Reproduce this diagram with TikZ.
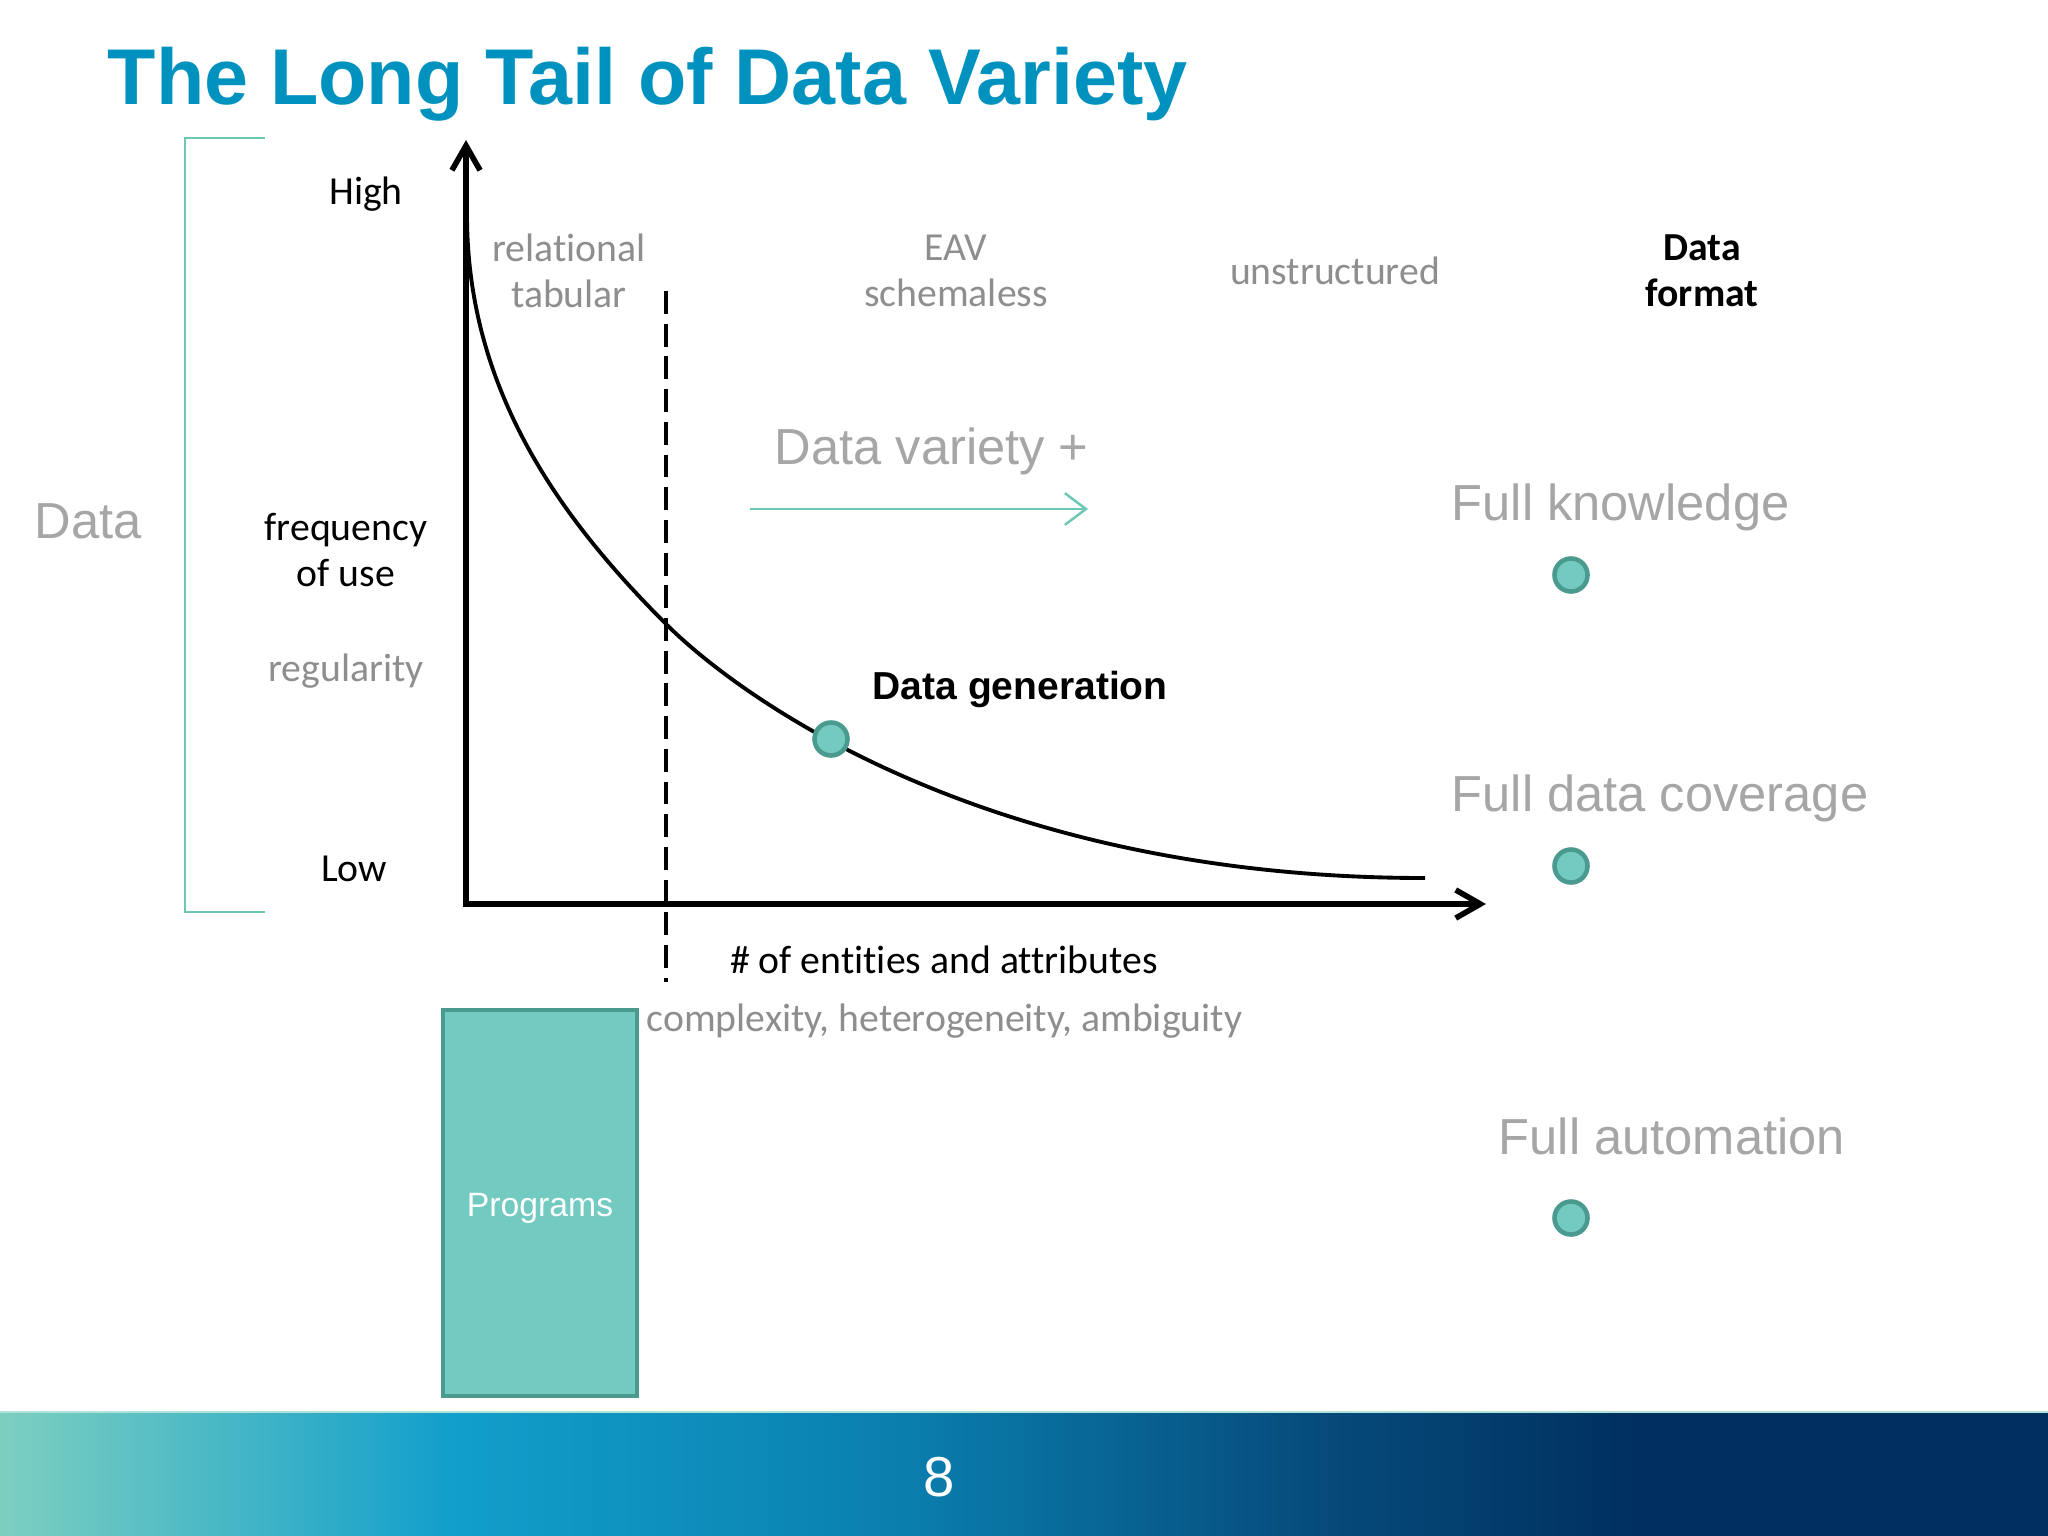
\documentclass[tikz,border=0pt]{standalone}
\usepackage{fontspec}
\setmainfont{Liberation Sans}
\newfontfamily\calibri[Ligatures=NoCommon]{Carlito}
\usetikzlibrary{arrows.meta}

\definecolor{titleblue}{HTML}{0092BE}
\definecolor{tealfill}{HTML}{72CAC1}
\definecolor{tealline}{HTML}{4B9A8F}
\definecolor{tealthin}{HTML}{6CC7B5}
\definecolor{softgray}{HTML}{A6A6A6}
\definecolor{labelgray}{HTML}{8E8E8E}
\definecolor{footA}{HTML}{7DCFC0}
\definecolor{footB}{HTML}{129FCB}
\definecolor{footC}{HTML}{0A7FAE}
\definecolor{footD}{HTML}{064C7C}
\definecolor{footE}{HTML}{00305F}
\pgfdeclarehorizontalshading{footbar}{100bp}{color(0bp)=(footA); color(25bp)=(footA); color(36bp)=(footB); color(47bp)=(footC); color(57bp)=(footD); color(65bp)=(footE); color(100bp)=(footE)}

\begin{document}
\begin{tikzpicture}[x=0.01cm, y=-0.01cm,
    cal/.style={font=\calibri\fontsize{11.3}{13.1}\selectfont, align=center, inner sep=0pt},
    big/.style={font=\fontsize{14.4}{17}\selectfont, text=softgray, inner sep=0pt},
    dot/.style={circle, draw=tealline, fill=tealfill, line width=1.3pt, minimum size=0.33cm, inner sep=0pt},
    axistip/.tip={Straight Barb[length=7pt, width=8pt]}]
    \useasboundingbox (0,0) rectangle (2048,1536);
    \fill[white] (0,0) rectangle (2048,1536);

    % Footer bar
    \shade[shading=footbar] (0,1412) rectangle (2048,1536);
    \draw[line width=0.6pt, footA!60!white] (0,1412) -- (2048,1412);
    \node[text=white, font=\fontsize{16}{18}\selectfont] (pagenum) at (939,1477) {8};

    % Title
    \node[anchor=base west, inner sep=0pt, text=titleblue, font=\bfseries\fontsize{22.5}{26}\selectfont] (title) at (107,104) {The Long Tail of Data Variety};

    % Bracket for data
    \draw[tealthin, line width=0.6pt] (265,138) -- (185,138) -- (185,912) -- (265,912);
    \node[big] (data) at (88,521) {Data};

    % Axes
    \coordinate (ytop) at (466,140);
    \coordinate (origin) at (466,904);
    \coordinate (xend) at (1486,904);
    \draw[line width=1.6pt, axistip-axistip] (ytop) -- (origin) -- (xend);

    % Axis labels
    \node[cal] (high) at (366,194) {High};
    \node[cal] (freq) at (346,550) {frequency\\of use};
    \node[cal, text=labelgray] (regul) at (346,671) {regularity};
    \node[cal] (low) at (354,869) {Low};
    \node[cal] (entities) at (944,960) {\# of entities and attributes};
    \node[cal, text=labelgray, anchor=west] (complex) at (646,1021) {complexity, heterogeneity, ambiguity};

    % Data formats
    \node[cal, text=labelgray] (relational) at (569,271) {relational\\tabular};
    \node[cal, text=labelgray] (eav) at (956,271) {EAV\\schemaless};
    \node[cal, text=labelgray] (unstruct) at (1335,271) {unstructured};
    \node[cal, font=\calibri\bfseries\fontsize{11.3}{13.1}\selectfont] (format) at (1702,271) {Data\\format};

    % Dashed split
    \coordinate (dtop) at (666,291);
    \coordinate (dbot) at (666,982);
    \draw[line width=1pt, dash pattern=on 6.5pt off 2.8pt] (dtop) -- (dbot);

    % Long tail curve
    \draw[line width=1.1pt] (467,215) .. controls (467,395) and (566,524) .. (666,624)
        .. controls (731,689) and (975,878) .. (1425,878);
    \node[dot] (gen) at (831,739) {};
    \node[anchor=west, inner sep=0pt, font=\bfseries\fontsize{11.1}{13}\selectfont] (genlabel) at (872,689) {Data generation};

    % Variety arrow
    \node[big, anchor=west] (variety) at (774,451) {Data variety +};
    \coordinate (vstart) at (750,509);
    \coordinate (vend) at (1088,509);
    \draw[tealthin, line width=0.7pt, -{Straight Barb[length=6pt, width=9pt]}] (vstart) -- (vend);

    % Goals on the right
    \node[big, anchor=west] (knowledge) at (1451,507) {Full knowledge};
    \node[dot] (k1) at (1571,575) {};
    \node[big, anchor=west] (coverage) at (1451,798) {Full data coverage};
    \node[dot] (k2) at (1571,866) {};
    \node[big, anchor=west] (automation) at (1498,1136) {Full automation};
    \node[dot] (k3) at (1571,1218) {};

    % Programs box
    \node[draw=tealline, fill=tealfill, line width=1pt, minimum width=1.94cm, minimum height=3.86cm] (programs) at (540,1203) {};
    \node[text=white, font=\fontsize{9.6}{11}\selectfont] (proglabel) at (540,1208) {Programs};
\end{tikzpicture}
\end{document}
